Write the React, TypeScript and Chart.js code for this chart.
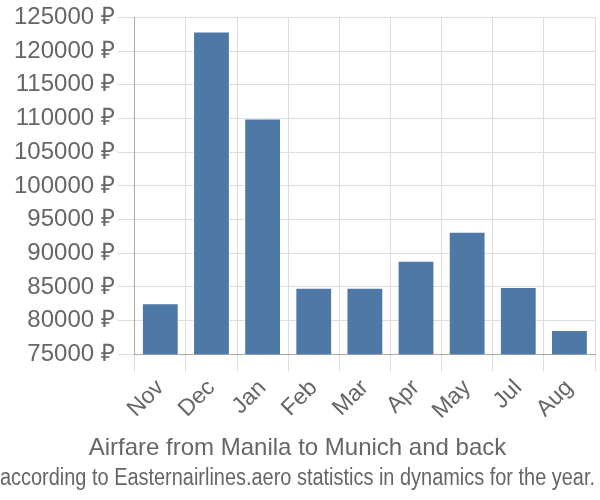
import React, { useEffect, useRef } from "react";
import { Chart, registerables } from "chart.js";

Chart.register(...registerables);

const categories = ["Nov", "Dec", "Jan", "Feb", "Mar", "Apr", "May", "Jul", "Aug"];
const prices = [82600, 122900, 110000, 84900, 84900, 88900, 93200, 85000, 78600];
const yMin = 75000;
const yMax = 125000;
const yStep = 5000;
const titleText = "Airfare from Manila to Munich and back";
const subtitleText = "according to Easternairlines.aero statistics in dynamics for the year.";

export default function App() {
  const ref = useRef<HTMLCanvasElement | null>(null);
  useEffect(() => {
    document.body.style.margin = "0";
    const chart = new Chart(ref.current as HTMLCanvasElement, {
      type: "bar",
      data: {
        labels: categories,
        datasets: [
          {
            data: prices,
            backgroundColor: "#4e79a7",
            borderColor: "rgba(255,255,255,0.6)",
            borderWidth: 1,
          },
        ],
      },
      options: {
        animation: false,
        responsive: false,
        maintainAspectRatio: false,
        layout: { padding: { top: 0, right: 5, left: 0, bottom: 0 } },
        plugins: {
          legend: { display: false },
          tooltip: { enabled: false },
          title: {
            display: true,
            text: titleText,
            position: "bottom",
            weight: 1000,
            color: "#666",
            font: { family: "Liberation Sans, Arial, sans-serif", size: 24, weight: "normal" },
            padding: { top: 6, bottom: 2 },
          },
          subtitle: {
            display: true,
            text: subtitleText,
            position: "bottom",
            weight: 2000,
            color: "#666",
            font: { family: "Liberation Sans, Arial, sans-serif", size: 23, weight: "normal" },
            padding: { top: 0, bottom: 8 },
          },
        },
        scales: {
          x: {
            grid: { color: "#ddd", offset: true, tickLength: 17 },
            border: { color: "#aaa" },
            ticks: {
              color: "#666",
              font: { family: "Liberation Sans, Arial, sans-serif", size: 23 },
              maxRotation: 45,
              minRotation: 45,
            },
          },
          y: {
            min: yMin,
            max: yMax,
            grid: { color: "#ddd", tickLength: 17 },
            border: { color: "#aaa" },
            afterFit: (s: any) => {
              s.width = s.width + 11;
            },
            ticks: {
              stepSize: yStep,
              color: "#666",
              font: { family: "Liberation Sans, Arial, sans-serif", size: 24 },
              callback: (v: any) => v + " ₽",
            },
          },
        },
      },
    });
    return () => chart.destroy();
  }, []);
  return <canvas ref={ref} width={600} height={500} style={{ display: "block" }} />;
}
